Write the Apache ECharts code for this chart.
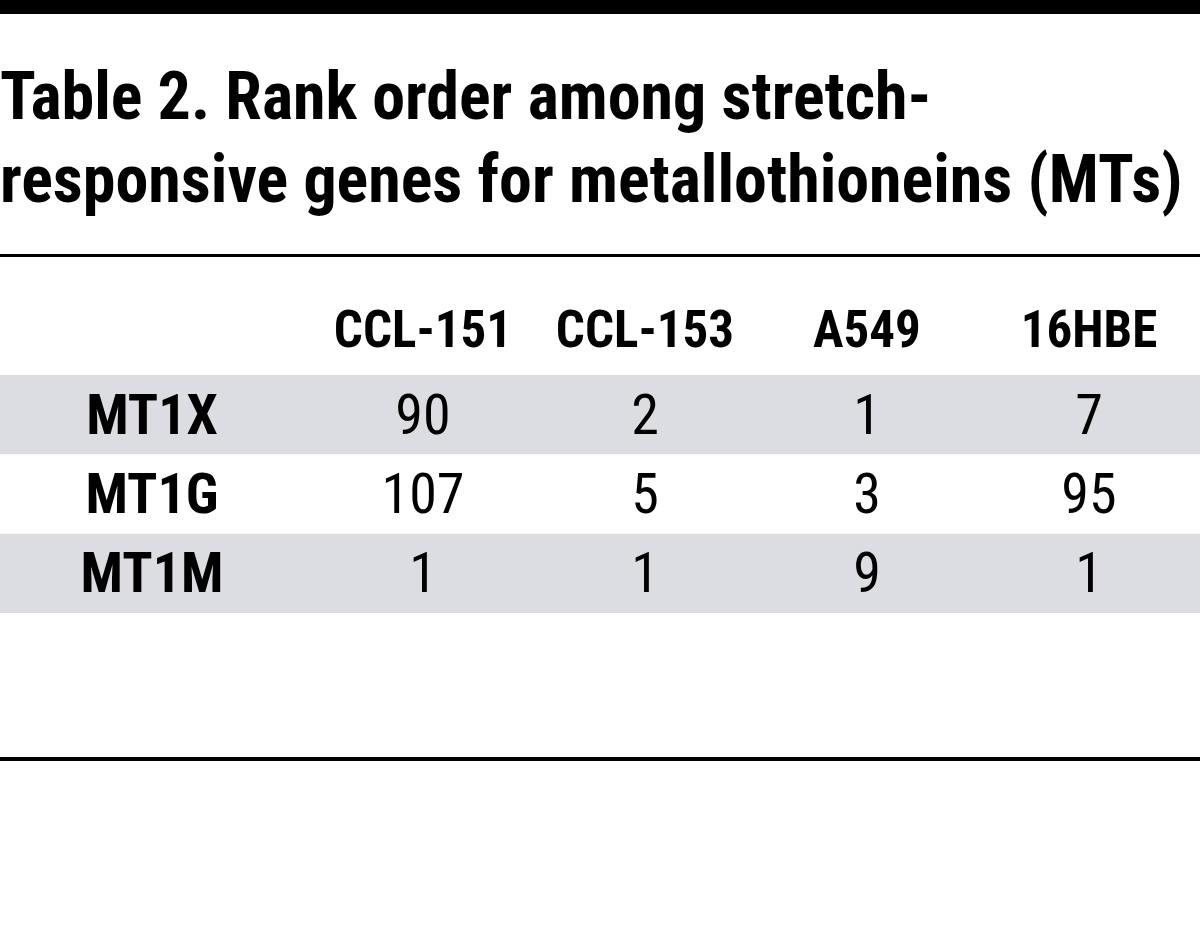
<!DOCTYPE html>
<html>
<head>
<meta charset="utf-8">
<script src="https://cdn.jsdelivr.net/npm/echarts@6/dist/echarts.min.js"></script>
<style>
html,body{margin:0;padding:0;background:#fff;}
#chart{width:1200px;height:952px;}
</style>
</head>
<body>
<div id="chart"></div>
<script>
const titleText = 'Table 2. Rank order among stretch-\nresponsive genes for metallothioneins (MTs)';
const columns = ['CCL-151', 'CCL-153', 'A549', '16HBE'];
const genes = ['MT1X', 'MT1G', 'MT1M'];
const ccl151 = [90, 107, 1];
const ccl153 = [2, 5, 1];
const a549 = [1, 3, 9];
const hbe16 = [7, 95, 1];

const FONT = '"Roboto Condensed", "Open Sans Condensed", "DejaVu Sans Condensed", sans-serif';
const colValues = [ccl151, ccl153, a549, hbe16];

const cells = [];
genes.forEach((g, r) => {
  colValues.forEach((arr, c) => {
    cells.push([c, r, arr[r]]);
  });
});
const bandRows = genes.map((g, i) => [0, i]).filter(d => d[1] % 2 === 0);

const chart = echarts.init(document.getElementById('chart'));
chart.setOption({
  backgroundColor: '#ffffff',
  animation: false,
  title: {
    text: titleText,
    left: 0,
    top: 61,
    padding: 0,
    textStyle: {
      fontFamily: FONT,
      fontSize: 66,
      fontWeight: 'bold',
      lineHeight: 83,
      color: '#000'
    }
  },
  graphic: [
    { type: 'rect', shape: { x: 0, y: 0, width: 1200, height: 14 }, style: { fill: '#000' } },
    { type: 'rect', shape: { x: 0, y: 254, width: 1200, height: 3 }, style: { fill: '#000' } },
    { type: 'rect', shape: { x: 0, y: 757, width: 1200, height: 4 }, style: { fill: '#000' } }
  ],
  grid: { left: 312, right: -7, top: 375, bottom: 339 },
  xAxis: {
    type: 'category',
    position: 'top',
    z: 10,
    data: columns,
    axisLine: { show: false },
    axisTick: { show: false },
    splitLine: { show: false },
    axisLabel: {
      interval: 0,
      margin: 41,
      verticalAlign: 'middle',
      fontFamily: FONT,
      fontSize: 51,
      fontWeight: 'bold',
      color: '#000'
    }
  },
  yAxis: {
    type: 'category',
    inverse: true,
    z: 10,
    data: genes,
    axisLine: { show: false },
    axisTick: { show: false },
    splitLine: { show: false },
    axisLabel: {
      align: 'center',
      verticalAlign: 'top',
      lineHeight: 10,
      margin: 160,
      fontFamily: FONT,
      fontSize: 56,
      fontWeight: 'bold',
      color: '#000'
    }
  },
  series: [
    {
      type: 'custom',
      clip: false,
      z: 1,
      encode: { x: 0, y: 1 },
      data: bandRows,
      renderItem: function (params, api) {
        const y = api.coord([api.value(0), api.value(1)])[1];
        const h = api.size([0, 1])[1];
        return {
          type: 'rect',
          shape: { x: 0, y: y - h / 2, width: api.getWidth(), height: h },
          style: { fill: '#dcdde0' }
        };
      },
      silent: true
    },
    {
      type: 'scatter',
      z: 3,
      symbolSize: 1,
      itemStyle: { color: 'rgba(0,0,0,0)', opacity: 1 },
      data: cells,
      label: {
        show: true,
        position: 'inside',
        offset: [0, 5],
        formatter: p => String(p.value[2]),
        fontFamily: FONT,
        fontSize: 56,
        fontWeight: 'normal',
        color: '#000',
        opacity: 1
      },
      silent: true
    }
  ]
});
</script>
</body>
</html>
